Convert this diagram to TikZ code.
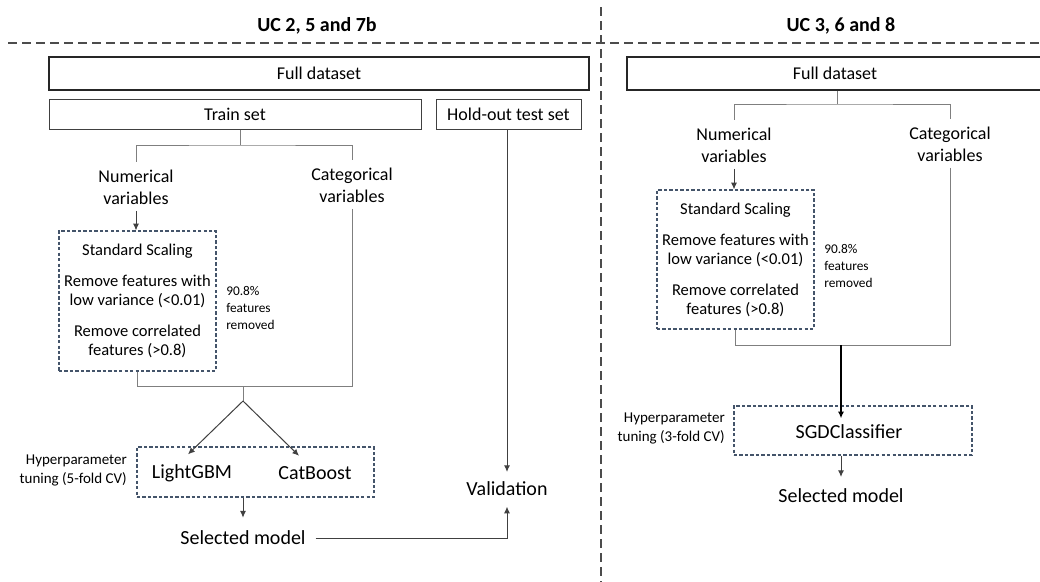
\documentclass[tikz,border=0pt]{standalone}
\usepackage{fontspec}
\setmainfont{Carlito}
\usetikzlibrary{arrows.meta,calc}
\definecolor{dblue}{HTML}{44546A}
\definecolor{lgray}{HTML}{7F7F7F}
\definecolor{dgray}{HTML}{404040}
\begin{document}
\begin{tikzpicture}[x=0.75pt,y=-0.75pt,
 ttl/.style={inner sep=0pt, font=\bfseries\fontsize{15}{18}\selectfont},
 txt/.style={inner sep=0pt, outer sep=0pt, align=center, font=\fontsize{13.5}{16.5}\selectfont},
 big/.style={inner sep=0pt, outer sep=0pt, font=\fontsize{15}{18}\selectfont},
 small/.style={inner sep=0pt, align=left, anchor=west, font=\fontsize{10}{12.4}\selectfont},
 hyp/.style={inner sep=0pt, align=right, anchor=east, font=\fontsize{11.25}{14.25}\selectfont},
 boxtxt/.style={align=center, font=\fontsize{12.4}{14.25}\selectfont},
 solidbox/.style={draw=dgray, line width=0.75pt, inner sep=0pt, minimum height=22.5pt, font=\fontsize{13.5}{16}\selectfont},
 fullbox/.style={draw=black!85, line width=1.1pt, inner sep=0pt, minimum height=24.75pt, font=\fontsize{13.5}{16}\selectfont},
 dbox/.style={draw=dblue, line width=0.9pt, dash pattern=on 2.5pt off 1.6pt, inner sep=0pt},
 conn/.style={draw=lgray, line width=0.75pt},
 arr/.style={draw=dgray, line width=0.75pt, -{Latex[length=5pt,width=4.5pt]}},
 sep/.style={draw=black!70, line width=1.1pt, dash pattern=on 7pt off 3.5pt}]
\clip (0,0) rectangle (1040,582);
\fill[white] (0,0) rectangle (1040,582);

% separators
\coordinate (hs) at (8,43); \coordinate (he) at (1040,43);
\coordinate (vs) at (601,7); \coordinate (ve) at (601,582);
\draw[sep] (hs) -- (he);
\draw[sep] (vs) -- (ve);

% titles
\node[ttl] (ttl1) at (317,26) {UC 2, 5 and 7b};
\node[ttl] (ttl2) at (841,26) {UC 3, 6 and 8};

% ---------- left ----------
\node[fullbox, minimum width=405pt] (full1) at (319,73.5) {Full dataset};
\node[solidbox, minimum width=279pt] (train) at (235,114) {Train set};
\node[solidbox, minimum width=108.75pt] (hold) at (508.5,114) {Hold-out test set};
\node[txt] (num1) at (136,187) {Numerical\\variables};
\node[txt] (cat1) at (352,185) {Categorical\\variables};
\coordinate (t1) at (240,145);
\draw[conn] (t1 |- train.south) -- (t1);
\draw[conn] ([yshift=6pt]num1.north) |- (t1) -| ([yshift=6pt]cat1.north);

\node[dbox, boxtxt, minimum width=117.75pt, minimum height=105pt] (box1) at (137.5,301)
 {Standard Scaling\\[9pt]Remove features with\\low variance (<0.01)\\[9pt]Remove correlated\\features (>0.8)};
\draw[arr] ([yshift=-5pt]num1.south) -- (num1.south |- box1.north);
\node[small] (rem1) at (226,308) {90.8\%\\features\\removed};

\coordinate (j1) at (243,386);
\coordinate (k1) at (243,401);
\draw[conn] (box1.south) |- (j1) -- (k1);
\draw[conn] ([yshift=-5pt]cat1.south) |- (j1);

\node[dbox, minimum width=177.75pt, minimum height=37.5pt] (box2) at (255.5,472) {};
\node[big] (lgbm) at (192,473) {LightGBM};
\node[big] (catb) at (315,473) {CatBoost};
\draw[arr] (k1) -- ([xshift=-3pt,yshift=7.5pt]lgbm.north);
\draw[arr] (k1) -- ([xshift=-12pt,yshift=8pt]catb.north);
\node[hyp] (hyp1) at (127,470) {Hyperparameter\\tuning (5-fold CV)};

\node[big] (sel1) at (243,538) {Selected model};
\draw[arr] (box2.south -| k1) -- ([yshift=10pt]sel1.north);
\node[big] (val) at (507,489) {Validation};
\draw[arr] (val |- hold.south) -- ([yshift=7.5pt]val.north);
\draw[arr] ([xshift=7.5pt]sel1.east) -| ([yshift=-8pt]val.south);

% ---------- right ----------
\node[fullbox, minimum width=312pt] (full2) at (835,73.5) {Full dataset};
\coordinate (t2) at (837,104);
\draw[conn] (t2 |- full2.south) -- (t2);
\node[txt] (num2) at (734,145) {Numerical\\variables};
\node[txt] (cat2) at (950,144) {Categorical\\variables};
\draw[conn] ([yshift=6pt]num2.north) |- (t2) -| ([yshift=6pt]cat2.north);

\node[dbox, boxtxt, minimum width=117.75pt, minimum height=104.25pt] (box3) at (735.5,259.5)
 {Standard Scaling\\[9pt]Remove features with\\low variance (<0.01)\\[9pt]Remove correlated\\features (>0.8)};
\draw[arr] ([yshift=-5pt]num2.south) -- (num2.south |- box3.north);
\node[small] (rem2) at (824,266) {90.8\%\\features\\removed};

\coordinate (j2) at (841,345);
\draw[conn] (box3.south) |- (j2);
\draw[conn] ([yshift=-5pt]cat2.south) |- (j2);

\node[dbox, minimum width=178.5pt, minimum height=36.75pt] (box4) at (853,430.5) {};
\node[big] (sgd) at (849,432) {SGDClassifier};
\draw[arr, draw=black, line width=0.9pt] (j2) -- ([yshift=5pt]sgd.north -| j2);
\node[hyp] (hyp2) at (725,428.5) {Hyperparameter\\tuning (3-fold CV)};

\node[big] (sel2) at (841,496) {Selected model};
\draw[arr] (box4.south -| j2) -- ([yshift=9pt]sel2.north);
\end{tikzpicture}
\end{document}
